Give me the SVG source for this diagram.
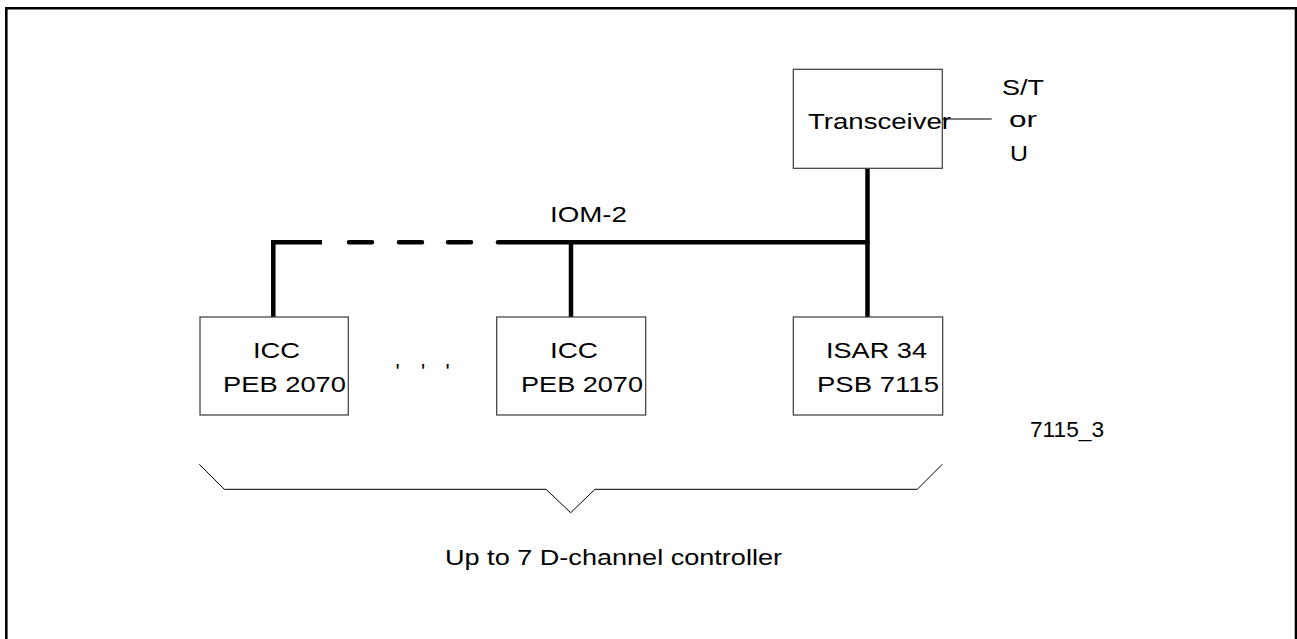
<svg xmlns="http://www.w3.org/2000/svg" width="1297" height="639" viewBox="0 0 1297 639">
<style>
.box{fill:#fff;stroke:#3a3a3a;stroke-width:1.2}
.t{font-family:"Liberation Sans",Arial,sans-serif;font-size:22px;fill:#000}
.bus{fill:none;stroke:#000;stroke-width:4.5}
.thin{fill:none;stroke:#000;stroke-width:1}
</style>
<rect width="1297" height="639" fill="#fff"/>
<path d="M6.3 639 V8.3 H1296 V639" fill="none" stroke="#000" stroke-width="2.6"/>
<g id="connectors">
<path class="bus" d="M273.3 317 V242.3 H322" stroke-linejoin="miter"/>
<path class="bus" d="M349 242.3 H372 M399 242.3 H422 M448 242.3 H471" stroke-linecap="round"/>
<path class="bus" d="M498 242.3 H867.5" stroke-linecap="round"/>
<path class="bus" d="M571 242.3 V317"/>
<path class="bus" d="M867.5 168 V317"/>
<path class="thin" d="M942 119 H991.7"/>
<path class="thin" d="M199.3 464.3 L224.3 489.3 H546 L570.7 512.7 L595 489.3 H917.3 L942.3 464.3"/>
</g>
<g id="transceiver">
<rect class="box" x="793.3" y="69.3" width="149" height="99"/>
<text class="t" x="808" y="129.3" font-size="24" textLength="143" lengthAdjust="spacingAndGlyphs">Transceiver</text>
</g>
<g id="st-label">
<text class="t" x="1002" y="95" textLength="42" lengthAdjust="spacingAndGlyphs">S/T</text>
<text class="t" x="1009" y="126.7" textLength="28" lengthAdjust="spacingAndGlyphs">or</text>
<text class="t" x="1010" y="160.7" textLength="18" lengthAdjust="spacingAndGlyphs">U</text>
</g>
<g id="iom-label">
<text class="t" x="550" y="221.7" textLength="77" lengthAdjust="spacingAndGlyphs">IOM-2</text>
</g>
<g id="icc1">
<rect class="box" x="200" y="317" width="148.3" height="98"/>
<text class="t" x="253" y="358.3" textLength="47" lengthAdjust="spacingAndGlyphs">ICC</text>
<text class="t" x="223" y="391.7" textLength="123" lengthAdjust="spacingAndGlyphs">PEB 2070</text>
</g>
<g id="ellipsis">
<text class="t" x="395.5 421 445.5" y="379">'''</text>
</g>
<g id="icc2">
<rect class="box" x="496.7" y="317" width="149" height="98"/>
<text class="t" x="550" y="358.3" textLength="48" lengthAdjust="spacingAndGlyphs">ICC</text>
<text class="t" x="521" y="391.7" textLength="122" lengthAdjust="spacingAndGlyphs">PEB 2070</text>
</g>
<g id="isar">
<rect class="box" x="793.3" y="317" width="149.4" height="98"/>
<text class="t" x="826" y="358.3" textLength="101" lengthAdjust="spacingAndGlyphs">ISAR 34</text>
<text class="t" x="817" y="391.7" textLength="122" lengthAdjust="spacingAndGlyphs">PSB 7115</text>
</g>
<g id="figure-id">
<text class="t" x="1030" y="436.7" font-size="15.5" textLength="74" lengthAdjust="spacingAndGlyphs">7115_3</text>
</g>
<g id="brace-label">
<text class="t" x="445" y="565" font-size="21" textLength="337" lengthAdjust="spacingAndGlyphs">Up to 7 D-channel controller</text>
</g>
</svg>
